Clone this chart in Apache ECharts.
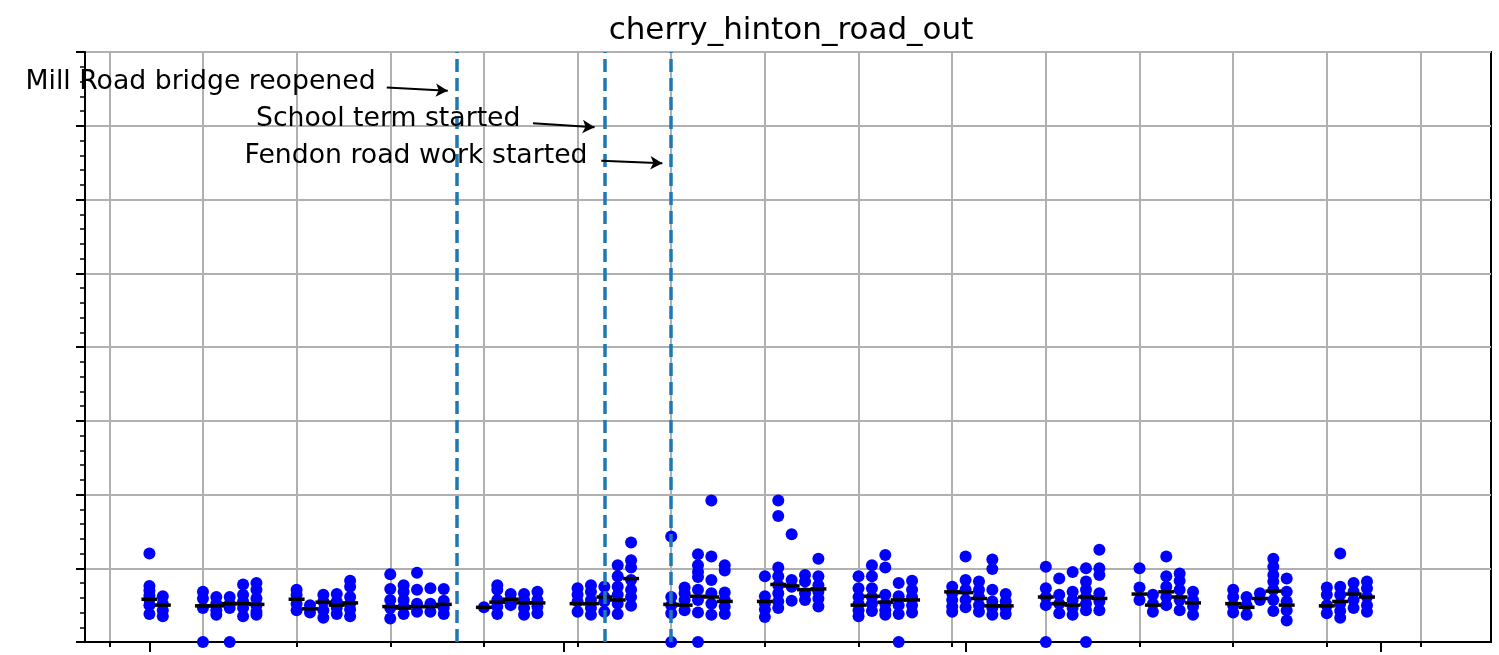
<!DOCTYPE html>
<html>
<head>
<meta charset="utf-8">
<script src="https://cdn.jsdelivr.net/npm/echarts@6/dist/echarts.min.js"></script>
<style>
* { margin: 0; padding: 0; }
body { background: #fff; }
</style>
</head>
<body>
<div id="chartId" style="width: 1499px;height: 655px;"></div>
<script>
// days counted from Monday 29 Jul (gridline), one column per weekday
const days = [3, 4, 7, 8, 9, 10, 11, 14, 15, 16, 17, 18, 21, 22, 23, 24, 25,
  28, 29, 30, 31, 32, 35, 36, 37, 38, 39, 42, 43, 44, 45, 46, 49, 50, 51, 52, 53,
  56, 57, 58, 59, 60, 63, 64, 65, 66, 67, 70, 71, 72, 73, 74, 77, 78, 79, 80, 81,
  84, 85, 86, 87, 88, 91, 92, 93, 94];
const samples = [
  [12.0, 7.6, 7.0, 6.3, 5.8, 5.0, 3.8], [6.2, 5.2, 4.3, 3.5],
  [6.8, 5.9, 4.6, 0], [6.1, 5.2, 4.3, 3.7], [6.1, 5.2, 4.6, 0], [7.8, 6.4, 5.5, 4.6, 3.5], [8.0, 7.1, 5.9, 5.0, 4.1, 3.7],
  [7.1, 6.4, 5.2, 4.3], [5.0, 4.0], [6.4, 5.5, 4.3, 3.3], [6.5, 5.5, 4.6, 3.8], [8.3, 7.5, 6.1, 5.2, 4.4, 3.5],
  [9.2, 7.2, 5.7, 4.6, 3.2], [7.7, 6.8, 5.7, 4.8, 3.8], [9.4, 7.1, 5.2, 4.1], [7.3, 5.2, 4.1], [7.2, 5.6, 4.6, 3.8],
  [4.7], [7.7, 7.1, 5.7, 4.8, 3.8], [6.5, 5.7, 5.0], [6.5, 5.7, 4.6, 3.7], [6.8, 5.7, 4.8, 3.9],
  [7.3, 6.4, 5.5, 4.1], [7.7, 6.8, 5.7, 4.6, 3.7], [7.5, 6.1, 5.5, 4.1], [10.4, 8.9, 7.5, 6.4, 5.2, 3.8], [13.5, 11.1, 10.1, 8.4, 7.1, 6.1, 4.9],
  [14.3, 6.1, 5.0, 3.9, 0], [7.4, 6.6, 5.7, 4.3], [11.9, 10.4, 9.5, 8.8, 7.1, 5.7, 4.0, 0], [19.2, 11.6, 8.4, 6.6, 5.2, 3.7], [10.4, 9.7, 6.7, 5.7, 4.8, 3.8],
  [8.9, 6.2, 5.2, 4.4, 3.4], [19.2, 17.1, 10.1, 8.9, 7.7, 6.6, 5.5, 4.6], [14.6, 8.4, 7.5, 5.6], [9.1, 8.2, 6.6, 5.7], [11.3, 8.9, 7.7, 6.8, 5.9, 4.8],
  [8.9, 7.3, 6.1, 5.2, 4.3, 3.5], [10.4, 8.9, 7.3, 6.1, 5.2, 4.2], [11.8, 10.1, 6.4, 5.2, 4.3, 3.7], [8.0, 6.2, 5.0, 3.8, 0], [8.3, 7.1, 6.1, 5.0, 4.0],
  [7.5, 6.6, 5.7, 4.8, 4.1], [11.6, 8.4, 7.1, 5.7, 4.7], [8.2, 7.1, 6.1, 5.0, 4.1], [11.2, 9.9, 7.1, 5.5, 4.6, 3.7], [6.5, 5.5, 4.6, 3.8],
  [10.2, 7.3, 6.1, 5.0, 0], [8.6, 6.4, 5.2, 3.9], [9.5, 6.8, 5.7, 4.6, 3.7], [10.0, 8.2, 7.1, 6.1, 5.2, 4.3, 0], [12.5, 10.0, 9.1, 6.6, 5.5, 4.3],
  [10.0, 7.4, 5.7], [6.4, 5.2, 4.1], [11.6, 8.9, 7.5, 6.1, 5.0], [9.3, 8.3, 7.1, 5.7, 4.3], [6.8, 5.7, 4.8, 3.7],
  [7.1, 6.1, 5.0, 4.0], [6.1, 5.0, 3.7], [6.6, 5.7], [11.3, 10.2, 9.1, 8.2, 7.1, 5.7, 4.2], [8.6, 6.8, 5.5, 4.3, 2.9],
  [7.4, 6.4, 5.0, 3.9], [12.0, 7.5, 6.4, 5.2, 4.2, 3.3], [8.0, 6.8, 5.7, 4.6], [8.2, 7.3, 6.1, 5.0, 4.1]
];
const medians = [5.8, 5.0, 4.9, 4.9, 5.2, 5.2, 5.1, 5.8, 4.5, 5.4, 5.0, 5.3, 4.8, 4.6, 4.8, 4.8, 5.1,
  4.7, 5.4, 5.8, 5.3, 5.3, 5.2, 5.2, 6.1, 5.7, 8.6, 5.1, 5.0, 6.2, 6.1, 5.5, 5.5, 7.8, 7.6, 7.1, 7.2,
  5.0, 6.2, 5.4, 5.7, 5.7, 6.8, 6.7, 5.9, 4.9, 4.9, 6.1, 5.2, 5.0, 6.1, 5.9, 6.5, 5.0, 6.8, 6.1, 5.3,
  5.2, 4.7, 5.9, 6.9, 5.0, 4.9, 5.5, 6.5, 6.1];
const weekTicks = [0, 7, 14, 21, 28, 35, 42, 49, 56, 63, 70, 77, 84, 91, 98];
const monthTicks = [3, 34, 64, 95];
const eventDays = [26, 37, 42];
const eventNames = ["Mill Road bridge reopened", "School term started", "Fendon road work started"];

const FONT = "DejaVu Sans";
// text anchor (right end) and arrow start, in data coords, for each event
const textPos = [[19.94, 75.9], [30.77, 70.9], [35.78, 65.9]];
const arrowPos = [
  [[20.74, 75.2], [25.3, 74.75]],
  [[31.67, 70.33], [36.27, 69.79]],
  [[36.77, 65.26], [41.34, 64.91]]
];

let dots = [];
days.forEach((d, i) => {
  samples[i].forEach(v => dots.push([d, v]));
});
let medianData = days.map((d, i) => [d, medians[i]]);

let chart = echarts.init(document.getElementById("chartId"));
let option = {
  animation: false,
  title: {
    text: "cherry_hinton_road_out",
    left: 786,
    top: 10,
    textAlign: "center",
    textStyle: { fontFamily: FONT, fontSize: 31, fontWeight: "normal", color: "#000" }
  },
  grid: {
    left: 85, right: 8, top: 52, bottom: 13,
    show: true, borderColor: "#000", borderWidth: 2
  },
  xAxis: [
    {
      type: "value",
      min: -1.815,
      max: 103.27,
      axisLine: { show: true, onZero: false, lineStyle: { color: "#000", width: 2 } },
      axisTick: { show: true, customValues: weekTicks, length: 5, lineStyle: { color: "#000", width: 2 } },
      axisLabel: { show: false },
      splitLine: { show: true, lineStyle: { color: "#b0b0b0", width: 2 } }
    },
    {
      type: "value",
      position: "bottom",
      min: -1.815,
      max: 103.27,
      axisLine: { show: false, onZero: false },
      axisTick: { show: true, customValues: monthTicks, length: 10, lineStyle: { color: "#000", width: 2 } },
      axisLabel: { show: false },
      splitLine: { show: false }
    }
  ],
  yAxis: {
    type: "value",
    min: 0,
    max: 80,
    interval: 10,
    axisLine: { show: true, onZero: false, lineStyle: { color: "#000", width: 2 } },
    axisTick: { show: true, length: 9, lineStyle: { color: "#000", width: 2 } },
    minorTick: { show: true, splitNumber: 5, length: 5, lineStyle: { color: "#000", width: 1.5 } },
    axisLabel: { show: false },
    splitLine: { show: true, lineStyle: { color: "#b0b0b0", width: 2 } }
  },
  series: [
    {
      name: "journeys",
      type: "scatter",
      data: dots,
      symbolSize: 12,
      itemStyle: { color: "#0000ff", opacity: 1 },
      z: 3,
      markLine: {
        silent: true,
        symbol: "none",
        label: { show: false },
        lineStyle: { type: [13, 6], color: "#1f77b4", width: 3.5 },
        data: eventDays.map(d => ({ xAxis: d }))
      }
    },
    {
      name: "median",
      type: "scatter",
      data: medianData,
      symbol: "rect",
      symbolSize: [16, 3.5],
      itemStyle: { color: "#000", opacity: 1 },
      z: 4,
      markLine: {
        silent: true,
        symbol: ["none", "arrow"],
        symbolSize: [10, 12],
        label: { show: false },
        lineStyle: { type: "solid", color: "#000", width: 2 },
        data: arrowPos.map(p => [{ coord: p[0] }, { coord: p[1] }])
      },
      markPoint: {
        silent: true,
        symbol: "circle",
        symbolSize: 1,
        itemStyle: { color: "rgba(0,0,0,0)" },
        label: {
          show: true,
          position: "left",
          distance: 0,
          color: "#000",
          fontFamily: FONT,
          fontSize: 26.7,
          formatter: p => p.name
        },
        data: eventNames.map((n, i) => ({ name: n, coord: textPos[i] }))
      }
    }
  ]
};
chart.setOption(option);
</script>
</body>
</html>
